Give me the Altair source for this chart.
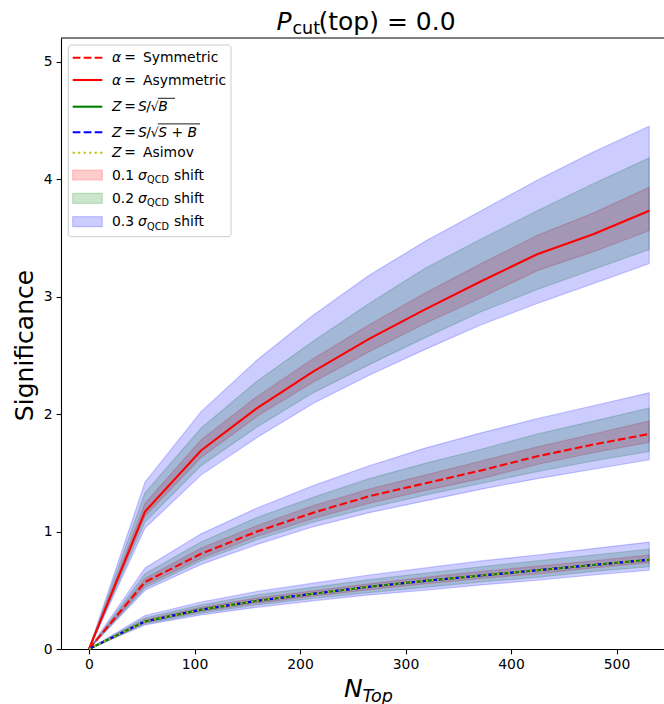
import altair as alt
import pandas as pd

# ---------------- data ----------------
n_top = [0, 53.1, 106.2, 159.3, 212.4, 265.5, 318.6, 371.7, 424.8, 477.9, 531.0]

asym_mid = [0, 1.17, 1.69, 2.05, 2.36, 2.64, 2.89, 3.13, 3.36, 3.53, 3.73]
asym_lo_01 = [0, 1.13, 1.63, 1.98, 2.27, 2.53, 2.77, 2.99, 3.22, 3.38, 3.56]
asym_hi_01 = [0, 1.24, 1.78, 2.15, 2.47, 2.76, 3.03, 3.28, 3.52, 3.71, 3.93]
asym_lo_02 = [0, 1.08, 1.56, 1.89, 2.18, 2.42, 2.65, 2.87, 3.06, 3.23, 3.40]
asym_hi_02 = [0, 1.33, 1.88, 2.28, 2.62, 2.94, 3.24, 3.49, 3.73, 3.96, 4.18]
asym_lo_03 = [0, 1.03, 1.48, 1.80, 2.09, 2.33, 2.55, 2.76, 2.94, 3.11, 3.28]
asym_hi_03 = [0, 1.42, 2.02, 2.46, 2.84, 3.18, 3.47, 3.73, 3.99, 4.23, 4.45]

sym_mid = [0, 0.57, 0.81, 1.00, 1.16, 1.30, 1.41, 1.52, 1.64, 1.74, 1.83]
sym_lo_01 = [0, 0.54, 0.77, 0.96, 1.11, 1.24, 1.35, 1.45, 1.57, 1.67, 1.76]
sym_hi_01 = [0, 0.60, 0.86, 1.05, 1.22, 1.36, 1.48, 1.60, 1.72, 1.83, 1.94]
sym_lo_02 = [0, 0.52, 0.75, 0.93, 1.08, 1.20, 1.31, 1.41, 1.51, 1.60, 1.68]
sym_hi_02 = [0, 0.64, 0.91, 1.12, 1.29, 1.45, 1.58, 1.70, 1.83, 1.94, 2.05]
sym_lo_03 = [0, 0.50, 0.72, 0.89, 1.04, 1.16, 1.26, 1.36, 1.45, 1.53, 1.61]
sym_hi_03 = [0, 0.69, 0.98, 1.20, 1.39, 1.56, 1.71, 1.84, 1.96, 2.07, 2.18]

z_sb = [0, 0.235, 0.335, 0.41, 0.47, 0.53, 0.58, 0.625, 0.67, 0.715, 0.76]
z_ssb = [0, 0.235, 0.335, 0.41, 0.47, 0.53, 0.58, 0.625, 0.67, 0.715, 0.76]
z_asimov = [0, 0.235, 0.335, 0.41, 0.47, 0.53, 0.58, 0.625, 0.67, 0.715, 0.76]
z_lo_01 = [0, 0.225, 0.32, 0.39, 0.45, 0.505, 0.555, 0.60, 0.64, 0.69, 0.735]
z_hi_01 = [0, 0.25, 0.355, 0.435, 0.495, 0.555, 0.61, 0.66, 0.705, 0.75, 0.80]
z_lo_02 = [0, 0.215, 0.305, 0.375, 0.43, 0.48, 0.525, 0.57, 0.61, 0.66, 0.70]
z_hi_02 = [0, 0.265, 0.375, 0.46, 0.525, 0.59, 0.645, 0.70, 0.75, 0.80, 0.85]
z_lo_03 = [0, 0.205, 0.29, 0.355, 0.41, 0.46, 0.50, 0.545, 0.585, 0.63, 0.67]
z_hi_03 = [0, 0.285, 0.40, 0.49, 0.56, 0.63, 0.69, 0.75, 0.80, 0.855, 0.91]

x_ticks = [0, 100, 200, 300, 400, 500]
y_ticks = [0, 1, 2, 3, 4, 5]

# ---------------- tables ----------------
band_sets = {
    "asym": {"0.1": (asym_lo_01, asym_hi_01), "0.2": (asym_lo_02, asym_hi_02), "0.3": (asym_lo_03, asym_hi_03)},
    "sym": {"0.1": (sym_lo_01, sym_hi_01), "0.2": (sym_lo_02, sym_hi_02), "0.3": (sym_lo_03, sym_hi_03)},
    "z": {"0.1": (z_lo_01, z_hi_01), "0.2": (z_lo_02, z_hi_02), "0.3": (z_lo_03, z_hi_03)},
}

line_series = {"sym": sym_mid, "asym": asym_mid, "zsb": z_sb, "zssb": z_ssb, "zasimov": z_asimov}

# ---------------- layout ----------------
FONT = "DejaVu Sans"
L, T = 61, 38
W, H = 603, 611
FS = 13.9

xs = alt.Scale(domain=[-26.55, 545.0], nice=False, zero=False)
ys = alt.Scale(domain=[0, 5.2], nice=False, zero=False)
axis_common = dict(title=None, grid=False, labelFont=FONT, labelFontSize=FS, labelColor="black",
                   tickColor="black", tickSize=4.9, tickWidth=1.1, domainColor="black",
                   domainWidth=1.1, labelPadding=4, labelFlush=False)
xaxis = alt.Axis(values=x_ticks, format="d", **axis_common)
yaxis = alt.Axis(values=y_ticks, format="d", **axis_common)

band_colors = {"0.1": "#ff0000", "0.2": "#008000", "0.3": "#0000ff"}

layers = []
for lv in ["0.1", "0.2", "0.3"]:
    c = band_colors[lv]
    for g in ["asym", "sym", "z"]:
        lo, hi = band_sets[g][lv]
        df = pd.DataFrame({"x": n_top, "lo": lo, "hi": hi})
        layers.append(
            alt.Chart(df)
            .mark_area(fill=c, fillOpacity=0.2, stroke=c, strokeOpacity=0.2, strokeWidth=1.2,
                       orient="vertical")
            .encode(x=alt.X("x:Q", scale=xs, axis=xaxis),
                    y=alt.Y("lo:Q", scale=ys, axis=yaxis),
                    y2="hi:Q")
        )

line_styles = {
    "sym": dict(color="#ff0000", strokeDash=[7.7, 3.3]),
    "asym": dict(color="#ff0000"),
    "zsb": dict(color="#008000"),
    "zssb": dict(color="#0000ff", strokeDash=[7.7, 3.3]),
    "zasimov": dict(color="#bfbf00", strokeDash=[2.1, 3.4]),
}
for name, st in line_styles.items():
    df = pd.DataFrame({"x": n_top, "y": line_series[name]})
    layers.append(
        alt.Chart(df)
        .mark_line(strokeWidth=2.1, **st)
        .encode(x=alt.X("x:Q", scale=xs, axis=xaxis),
                y=alt.Y("y:Q", scale=ys, axis=yaxis))
    )

one = alt.Data(values=[{"k": 0}])

# top spine
layers.append(alt.Chart(one).mark_rule(color="black", strokeWidth=1.1)
              .encode(x=alt.value(0), x2=alt.value(W), y=alt.value(0)))


def txt(xa, ya, s, size=FS, italic=False, angle=None, align="left"):
    kw = dict(text=s, font=FONT, fontSize=size, color="black", align=align, baseline="alphabetic")
    if italic:
        kw["fontStyle"] = "italic"
    if angle is not None:
        kw["angle"] = angle
    return alt.Chart(one).mark_text(**kw).encode(x=alt.value(xa - L), y=alt.value(ya - T))


def hrule(x1, x2, ya, color="black", width=1.0, dash=None):
    kw = dict(color=color, strokeWidth=width)
    if dash:
        kw["strokeDash"] = dash
    return alt.Chart(one).mark_rule(**kw).encode(x=alt.value(x1 - L), x2=alt.value(x2 - L), y=alt.value(ya - T))


def rect(x1, x2, y1, y2, fill, fo, stroke, so, sw=1.0, radius=0):
    kw = dict(fill=fill, fillOpacity=fo, stroke=stroke, strokeOpacity=so, strokeWidth=sw)
    if radius:
        kw["cornerRadius"] = radius
    return alt.Chart(one).mark_rect(**kw).encode(
        x=alt.value(x1 - L), x2=alt.value(x2 - L), y=alt.value(y1 - T), y2=alt.value(y2 - T))


# title
layers += [
    txt(276.5, 29.5, "P", size=25, italic=True),
    txt(292.5, 33.5, "cut", size=17.5),
    txt(318.5, 29.5, "(top) = 0.0", size=25),
]
# axis titles
layers += [
    txt(344, 697, "N", size=25, italic=True),
    txt(362.5, 701.5, "Top", size=17.5, italic=True),
    txt(33, 345.5, "Significance", size=25, angle=270, align="center"),
]

# legend
layers.append(rect(68.3, 231, 45, 236.7, "white", 0.8, "#cccccc", 1.0, 1.0, 3))
rows_y = [57.7, 80, 106.7, 132.3, 152.7, 175, 198.3, 221.7]
base = [y + 4.6 for y in rows_y]
hx1, hx2 = 72.7, 102.3
layers += [
    hrule(hx1, hx2, rows_y[0], "#ff0000", 2.1, [7.7, 3.3]),
    hrule(hx1, hx2, rows_y[1], "#ff0000", 2.1),
    hrule(hx1, hx2, rows_y[2], "#008000", 2.1),
    hrule(hx1, hx2, rows_y[3], "#0000ff", 2.1, [7.7, 3.3]),
    hrule(hx1, hx2, rows_y[4], "#bfbf00", 2.1, [2.1, 3.4]),
]
for i, lv in enumerate(["0.1", "0.2", "0.3"]):
    yc = rows_y[5 + i]
    c = band_colors[lv]
    layers.append(rect(hx1, hx2, yc - 5, yc + 5, c, 0.2, c, 0.2, 1.2))

EQ = 124.2
layers += [
    txt(112, base[0], "α", italic=True), txt(EQ, base[0], "="), txt(143, base[0], "Symmetric"),
    txt(112, base[1], "α", italic=True), txt(EQ, base[1], "="), txt(143, base[1], "Asymmetric"),
    txt(112, base[2], "Z", italic=True), txt(EQ, base[2], "="), txt(138, base[2], "S", italic=True),
    txt(146.2, base[2], "/"), txt(150.5, base[2], "√", size=13), txt(158.3, base[2], "B", italic=True),
    hrule(157.8, 175, base[2] - 13.0, "black", 0.9),
    txt(112, base[3], "Z", italic=True), txt(EQ, base[3], "="), txt(138, base[3], "S", italic=True),
    txt(146.2, base[3], "/"), txt(150.5, base[3], "√", size=13), txt(158.3, base[3], "S + B", italic=True),
    hrule(157.8, 200, base[3] - 13.0, "black", 0.9),
    txt(112, base[4], "Z", italic=True), txt(EQ, base[4], "="), txt(143, base[4], "Asimov"),
]
for i, lbl in enumerate(["0.1", "0.2", "0.3"]):
    b = base[5 + i]
    layers += [
        txt(112, b, lbl),
        txt(138, b, "σ", italic=True),
        txt(147, b + 3.3, "QCD", size=9.7),
        txt(174, b, "shift"),
    ]

chart = alt.layer(*layers).properties(
    width=W, height=H,
    autosize=alt.AutoSizeParams(type="none"),
    padding={"left": L, "top": T, "right": 0, "bottom": 704 - T - H},
    background="white",
).configure_view(stroke=None)

chart.save("out.html", embed_options={"renderer": "svg", "actions": False})
